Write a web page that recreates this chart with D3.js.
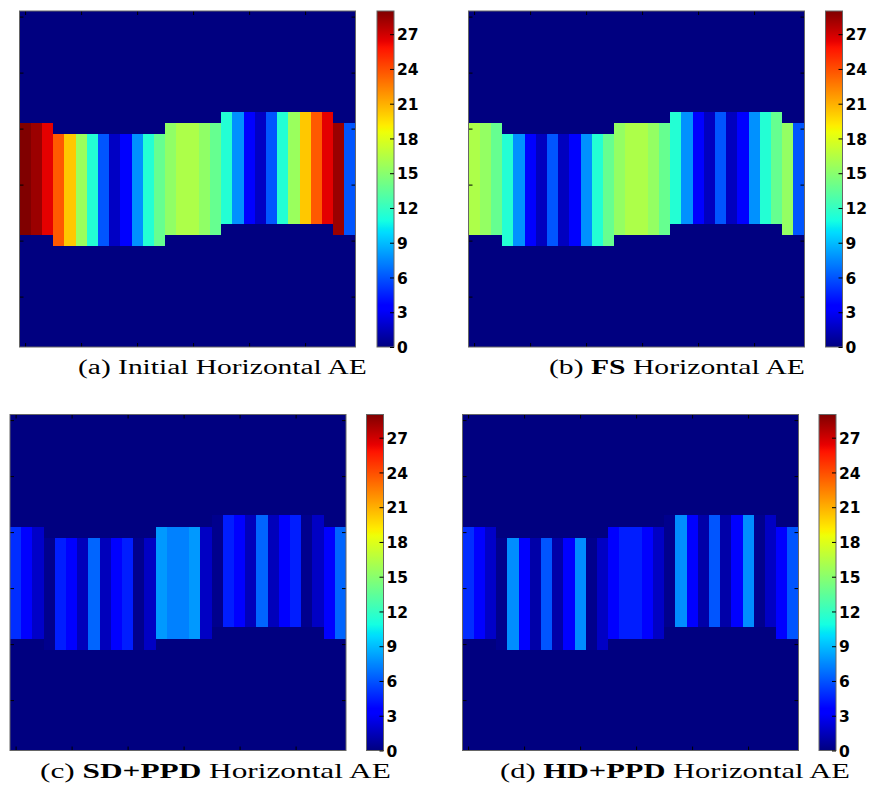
<!DOCTYPE html>
<html><head><meta charset="utf-8">
<script src="https://cdn.jsdelivr.net/npm/d3@7"></script>
<style>body{margin:0;background:#fff}svg{display:block}</style>
</head><body><svg id="chart" width="872" height="785"></svg>
<script>
// ---------------- data ----------------
const nCols = 30;
const nRows = 30;
// first (top) row of the coloured band in every column
const bandTop = [10,10,10,11,11,11,11,11,11,11,11,11,11,10,10,10,10,10,9,9,9,9,9,9,9,9,9,9,10,10];
const bandHeight = 10;
const valuesA = [29.0,28.3,26.4,23.6,20.2,15.6,11.4,6.1,1.8,3.4,7.8,11.4,13.8,15.2,16.3,16.3,15.2,13.8,11.4,7.8,3.4,1.8,6.1,11.4,15.6,20.2,23.6,26.4,28.3,6.1];
const valuesB = [16.3,15.3,13.8,11.4,7.8,3.4,1.6,6.1,1.6,3.4,7.8,11.4,13.8,15.3,16.3,16.3,15.3,13.8,11.4,7.8,3.4,1.6,6.1,1.6,3.4,7.8,11.4,13.8,15.3,6.1];
const valuesC = [4.9,3.4,1.9,0.4,4.5,3.4,1.5,6.5,1.5,3.4,4.5,0.4,1.7,8.0,7.3,7.3,8.0,1.7,0.4,4.5,3.4,1.5,6.5,1.5,3.4,4.5,0.4,1.7,3.4,6.5];
const valuesD = [4.9,3.4,1.9,0.4,7.7,3.4,1.1,6.1,1.1,3.4,7.7,0.4,1.7,3.6,4.5,4.5,3.6,1.7,0.4,7.7,3.4,1.1,6.1,1.1,3.4,7.7,0.4,1.7,3.4,6.1];
const colorbarTicks = [0,3,6,9,12,15,18,21,24,27];
const colorMax = 29;
const axisTicks = [0,5,10,15,20,25];
const captionA = [["(a) Initial Horizontal AE", false]];
const captionB = [["(b) ", false], ["FS", true], [" Horizontal AE", false]];
const captionC = [["(c) ", false], ["SD+PPD", true], [" Horizontal AE", false]];
const captionD = [["(d) ", false], ["HD+PPD", true], [" Horizontal AE", false]];

// ---------------- layout ----------------
const panels = [
  {vals: valuesA, cap: captionA, x: 19.5, y: 11, cbX: 377, capL: 78, capR: 367, capY: 374},
  {vals: valuesB, cap: captionB, x: 468.5, y: 11, cbX: 825.5, capL: 549, capR: 805, capY: 374},
  {vals: valuesC, cap: captionC, x: 10, y: 414.5, cbX: 366.5, capL: 40, capR: 391, capY: 778},
  {vals: valuesD, cap: captionD, x: 462.5, y: 414.5, cbX: 819, capL: 500, capR: 850, capY: 778}
];
const size = 336, cbW = 17;

// matplotlib "jet"
const jetSeg = {
  r: [[0,0],[0.35,0],[0.66,1],[0.89,1],[1,0.5]],
  g: [[0,0],[0.125,0],[0.375,1],[0.64,1],[0.91,0],[1,0]],
  b: [[0,0.5],[0.11,1],[0.34,1],[0.65,0],[1,0]]
};
function segVal(seg, t) {
  for (let i = 1; i < seg.length; i++) {
    if (t <= seg[i][0]) {
      const [x0,y0] = seg[i-1], [x1,y1] = seg[i];
      return y0 + (y1 - y0) * (t - x0) / (x1 - x0);
    }
  }
  return seg[seg.length-1][1];
}
function jetT(t) {
  return d3.rgb(segVal(jetSeg.r,t)*255, segVal(jetSeg.g,t)*255, segVal(jetSeg.b,t)*255).formatHex();
}
const colorScale = d3.scaleLinear().domain([0, colorMax]).range([0, 1]).clamp(true);
function jet(v) {
  const idx = Math.min(255, Math.floor(colorScale(v) * 256));
  return jetT(idx / 255);
}

const svg = d3.select("#chart");
const defs = svg.append("defs");
const grad = defs.append("linearGradient").attr("id", "jetGrad")
  .attr("x1", 0).attr("y1", 1).attr("x2", 0).attr("y2", 0);
grad.selectAll("stop").data(d3.range(0, 257)).join("stop")
  .attr("offset", d => d / 256)
  .attr("stop-color", d => jetT(d / 256));

panels.forEach(p => {
  const g = svg.append("g");
  const xs = d3.scaleLinear().domain([-0.5, nCols - 0.5]).range([p.x, p.x + size]);
  const ys = d3.scaleLinear().domain([-0.5, nRows - 0.5]).range([p.y, p.y + size]);
  const cells = [];
  for (let c = 0; c < nCols; c++) {
    for (let r = 0; r < nRows; r++) {
      const inBand = r >= bandTop[c] && r < bandTop[c] + bandHeight;
      cells.push({c, r, v: inBand ? p.vals[c] : 0});
    }
  }
  g.append("g").attr("shape-rendering", "crispEdges")
    .selectAll("rect").data(cells).join("rect")
    .attr("x", d => xs(d.c - 0.5))
    .attr("y", d => ys(d.r - 0.5))
    .attr("width", d => xs(d.c + 0.5) - xs(d.c - 0.5) + 0.3)
    .attr("height", d => ys(d.r + 0.5) - ys(d.r - 0.5) + 0.3)
    .attr("fill", d => jet(d.v));

  // inward ticks on all four sides
  const mk = (axis, tr) => {
    const a = g.append("g").attr("transform", tr)
      .call(axis.tickValues(axisTicks).tickSize(-4).tickFormat(""));
    a.select(".domain").remove();
    a.selectAll("line").attr("stroke", "#000").attr("stroke-width", 1);
  };
  mk(d3.axisTop(xs), `translate(0,${p.y})`);
  mk(d3.axisBottom(xs), `translate(0,${p.y + size})`);
  mk(d3.axisLeft(ys), `translate(${p.x},0)`);
  mk(d3.axisRight(ys), `translate(${p.x + size},0)`);
  g.append("rect").attr("x", p.x).attr("y", p.y).attr("width", size).attr("height", size)
    .attr("fill", "none").attr("stroke", "#666").attr("stroke-width", 1);

  // colorbar
  const cs = d3.scaleLinear().domain([0, colorMax]).range([p.y + size, p.y]);
  g.append("rect").attr("x", p.cbX).attr("y", p.y).attr("width", cbW).attr("height", size)
    .attr("fill", "url(#jetGrad)").attr("stroke", "#666").attr("stroke-width", 1);
  const ca = g.append("g").attr("transform", `translate(${p.cbX + cbW},0)`)
    .call(d3.axisRight(cs).tickValues(colorbarTicks).tickSize(-4).tickPadding(3));
  ca.select(".domain").remove();
  ca.selectAll("line").attr("stroke", "#000");
  ca.selectAll("text").attr("font-family", "DejaVu Sans").attr("font-weight", "bold")
    .attr("font-size", 15.5).attr("fill", "#000").attr("dy", "0.36em");

  // caption
  const cg = g.append("g");
  const t = cg.append("text").attr("x", 0).attr("y", 0)
    .attr("font-family", "Liberation Serif").attr("font-size", 20.5).attr("fill", "#000");
  t.selectAll("tspan").data(p.cap).join("tspan")
    .attr("font-weight", d => d[1] ? "bold" : "normal")
    .style("white-space", "pre")
    .text(d => d[0]);
  t.attr("xml:space", "preserve");
  const w = t.node().getComputedTextLength();
  cg.attr("transform", `translate(${p.capL},${p.capY}) scale(${(p.capR - p.capL) / w},1)`);
});
</script></body></html>
